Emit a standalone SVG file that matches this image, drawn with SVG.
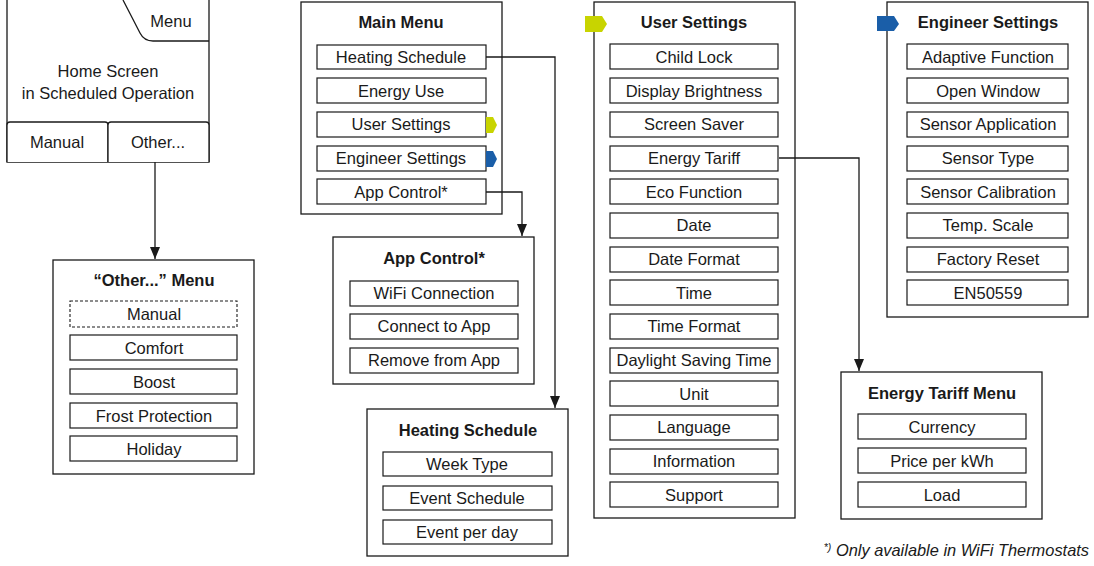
<svg xmlns="http://www.w3.org/2000/svg" width="1094" height="566" viewBox="0 0 1094 566">
<style>
.frame{fill:#fff;stroke:#1a1a1a;stroke-width:1.3}
.item{fill:#fff;stroke:#1a1a1a;stroke-width:1.2}
.dash{fill:#fff;stroke:#1a1a1a;stroke-width:1.1;stroke-dasharray:3 2}
.t{font-family:"Liberation Sans",Arial,sans-serif;font-size:16.5px;text-anchor:middle;fill:#1a1a1a}
.h{font-family:"Liberation Sans",Arial,sans-serif;font-size:16.5px;font-weight:bold;text-anchor:middle;fill:#1a1a1a}
.conn{fill:none;stroke:#1a1a1a;stroke-width:1.3}
.yg{fill:#c8d400}
.bl{fill:#1a5ea8}
</style>
<defs>
<marker id="arr" viewBox="0 0 12 10" refX="12" refY="5" markerWidth="12" markerHeight="10" markerUnits="userSpaceOnUse" orient="auto">
<path d="M0,0 L12,5 L0,10 z" fill="#1a1a1a"/>
</marker>
</defs>
<rect width="1094" height="566" fill="#fff"/>

<g id="home-screen">
<path class="frame" d="M7,0 V162 H209 V0"/>
<path class="conn" d="M123,0 L140,33 Q144,41 153,41 H209"/>
<text class="t" x="171" y="27">Menu</text>
<text class="t" x="108" y="77">Home Screen</text>
<text class="t" x="108" y="99">in Scheduled Operation</text>
<path class="frame" d="M7,162 V125 Q7,122 10,122 H105 Q108,122 108,125 V162"/>
<path class="frame" d="M108,162 V125 Q108,122 111,122 H206 Q209,122 209,125 V162"/>
<text class="t" x="57" y="148">Manual</text>
<text class="t" x="158" y="148">Other...</text>
</g>

<g id="other-menu">
<rect class="frame" x="53" y="260" width="201" height="214"/>
<text class="h" x="154" y="286">“Other...” Menu</text>
<rect class="dash" x="70" y="301" width="167" height="26"/>
<text class="t" x="154" y="320">Manual</text>
<rect class="item" x="70" y="335" width="167" height="25"/>
<text class="t" x="154" y="354">Comfort</text>
<rect class="item" x="70" y="369" width="167" height="25"/>
<text class="t" x="154" y="388">Boost</text>
<rect class="item" x="70" y="403" width="167" height="25"/>
<text class="t" x="154" y="422">Frost Protection</text>
<rect class="item" x="70" y="436" width="167" height="25"/>
<text class="t" x="154" y="455">Holiday</text>
</g>

<g id="main-menu">
<rect class="frame" x="301" y="2" width="201" height="212"/>
<text class="h" x="401" y="28">Main Menu</text>
<rect class="item" x="317" y="45" width="169" height="24"/>
<text class="t" x="401" y="63">Heating Schedule</text>
<rect class="item" x="317" y="78" width="169" height="25"/>
<text class="t" x="401" y="97">Energy Use</text>
<rect class="item" x="317" y="112" width="169" height="25"/>
<text class="t" x="401" y="130">User Settings</text>
<polygon class="yg" points="486,117 493,117 497,125 493,133 486,133"/>
<rect class="item" x="317" y="146" width="169" height="25"/>
<text class="t" x="401" y="164">Engineer Settings</text>
<polygon class="bl" points="486,151 493,151 497,159 493,167 486,167"/>
<rect class="item" x="317" y="179" width="169" height="25"/>
<text class="t" x="401" y="198">App Control*</text>
</g>

<g id="app-control">
<rect class="frame" x="333" y="237" width="201" height="147"/>
<text class="h" x="434" y="264">App Control*</text>
<rect class="item" x="350" y="281" width="168" height="25"/>
<text class="t" x="434" y="299">WiFi Connection</text>
<rect class="item" x="350" y="314" width="168" height="25"/>
<text class="t" x="434" y="332">Connect to App</text>
<rect class="item" x="350" y="348" width="168" height="25"/>
<text class="t" x="434" y="366">Remove from App</text>
</g>

<g id="heating-schedule">
<rect class="frame" x="367" y="409" width="201" height="147"/>
<text class="h" x="468" y="436">Heating Schedule</text>
<rect class="item" x="383" y="452" width="169" height="24"/>
<text class="t" x="467" y="470">Week Type</text>
<rect class="item" x="383" y="486" width="169" height="24"/>
<text class="t" x="467" y="504">Event Schedule</text>
<rect class="item" x="383" y="520" width="169" height="24"/>
<text class="t" x="467" y="538">Event per day</text>
</g>

<g id="user-settings">
<rect class="frame" x="594" y="2" width="201" height="516"/>
<polygon class="yg" points="585,16 602,16 607,24 602,32 585,32"/>
<text class="h" x="694" y="28">User Settings</text>
<g>
<rect class="item" x="610" y="44" width="168" height="25"/><text class="t" x="694" y="63">Child Lock</text>
<rect class="item" x="610" y="78" width="168" height="25"/><text class="t" x="694" y="97">Display Brightness</text>
<rect class="item" x="610" y="112" width="168" height="25"/><text class="t" x="694" y="130">Screen Saver</text>
<rect class="item" x="610" y="146" width="168" height="25"/><text class="t" x="694" y="164">Energy Tariff</text>
<rect class="item" x="610" y="179" width="168" height="25"/><text class="t" x="694" y="198">Eco Function</text>
<rect class="item" x="610" y="213" width="168" height="25"/><text class="t" x="694" y="231">Date</text>
<rect class="item" x="610" y="247" width="168" height="25"/><text class="t" x="694" y="265">Date Format</text>
<rect class="item" x="610" y="280" width="168" height="25"/><text class="t" x="694" y="299">Time</text>
<rect class="item" x="610" y="314" width="168" height="25"/><text class="t" x="694" y="332">Time Format</text>
<rect class="item" x="610" y="348" width="168" height="25"/><text class="t" x="694" y="366">Daylight Saving Time</text>
<rect class="item" x="610" y="381" width="168" height="25"/><text class="t" x="694" y="400">Unit</text>
<rect class="item" x="610" y="415" width="168" height="25"/><text class="t" x="694" y="433">Language</text>
<rect class="item" x="610" y="449" width="168" height="25"/><text class="t" x="694" y="467">Information</text>
<rect class="item" x="610" y="482" width="168" height="25"/><text class="t" x="694" y="501">Support</text>
</g>
</g>

<g id="energy-tariff-menu">
<rect class="frame" x="841" y="372" width="201" height="147"/>
<text class="h" x="942" y="399">Energy Tariff Menu</text>
<rect class="item" x="858" y="414" width="168" height="25"/><text class="t" x="942" y="433">Currency</text>
<rect class="item" x="858" y="448" width="168" height="25"/><text class="t" x="942" y="467">Price per kWh</text>
<rect class="item" x="858" y="482" width="168" height="25"/><text class="t" x="942" y="501">Load</text>
</g>

<g id="engineer-settings">
<rect class="frame" x="887" y="2" width="201" height="315"/>
<polygon class="bl" points="877,16 894,16 899,24 894,31 877,31"/>
<text class="h" x="988" y="28">Engineer Settings</text>
<rect class="item" x="907" y="44" width="161" height="25"/><text class="t" x="988" y="63">Adaptive Function</text>
<rect class="item" x="907" y="78" width="161" height="25"/><text class="t" x="988" y="97">Open Window</text>
<rect class="item" x="907" y="112" width="161" height="25"/><text class="t" x="988" y="130">Sensor Application</text>
<rect class="item" x="907" y="146" width="161" height="25"/><text class="t" x="988" y="164">Sensor Type</text>
<rect class="item" x="907" y="179" width="161" height="25"/><text class="t" x="988" y="198">Sensor Calibration</text>
<rect class="item" x="907" y="213" width="161" height="25"/><text class="t" x="988" y="231">Temp. Scale</text>
<rect class="item" x="907" y="247" width="161" height="25"/><text class="t" x="988" y="265">Factory Reset</text>
<rect class="item" x="907" y="280" width="161" height="25"/><text class="t" x="988" y="299">EN50559</text>
</g>

<g id="connectors">
<path class="conn" d="M155,162 V259" marker-end="url(#arr)"/>
<path class="conn" d="M486,57 H555 V408" marker-end="url(#arr)"/>
<path class="conn" d="M486,192 H522 V236" marker-end="url(#arr)"/>
<path class="conn" d="M779,158 H859 V371" marker-end="url(#arr)"/>
</g>

<g id="footnote">
<text x="1089" y="556" font-family="Liberation Sans, Arial, sans-serif" font-size="16.4" font-style="italic" text-anchor="end" fill="#1a1a1a"><tspan font-size="10.5" dy="-5">*)</tspan><tspan dy="5"> Only available in WiFi Thermostats</tspan></text>
</g>
</svg>
